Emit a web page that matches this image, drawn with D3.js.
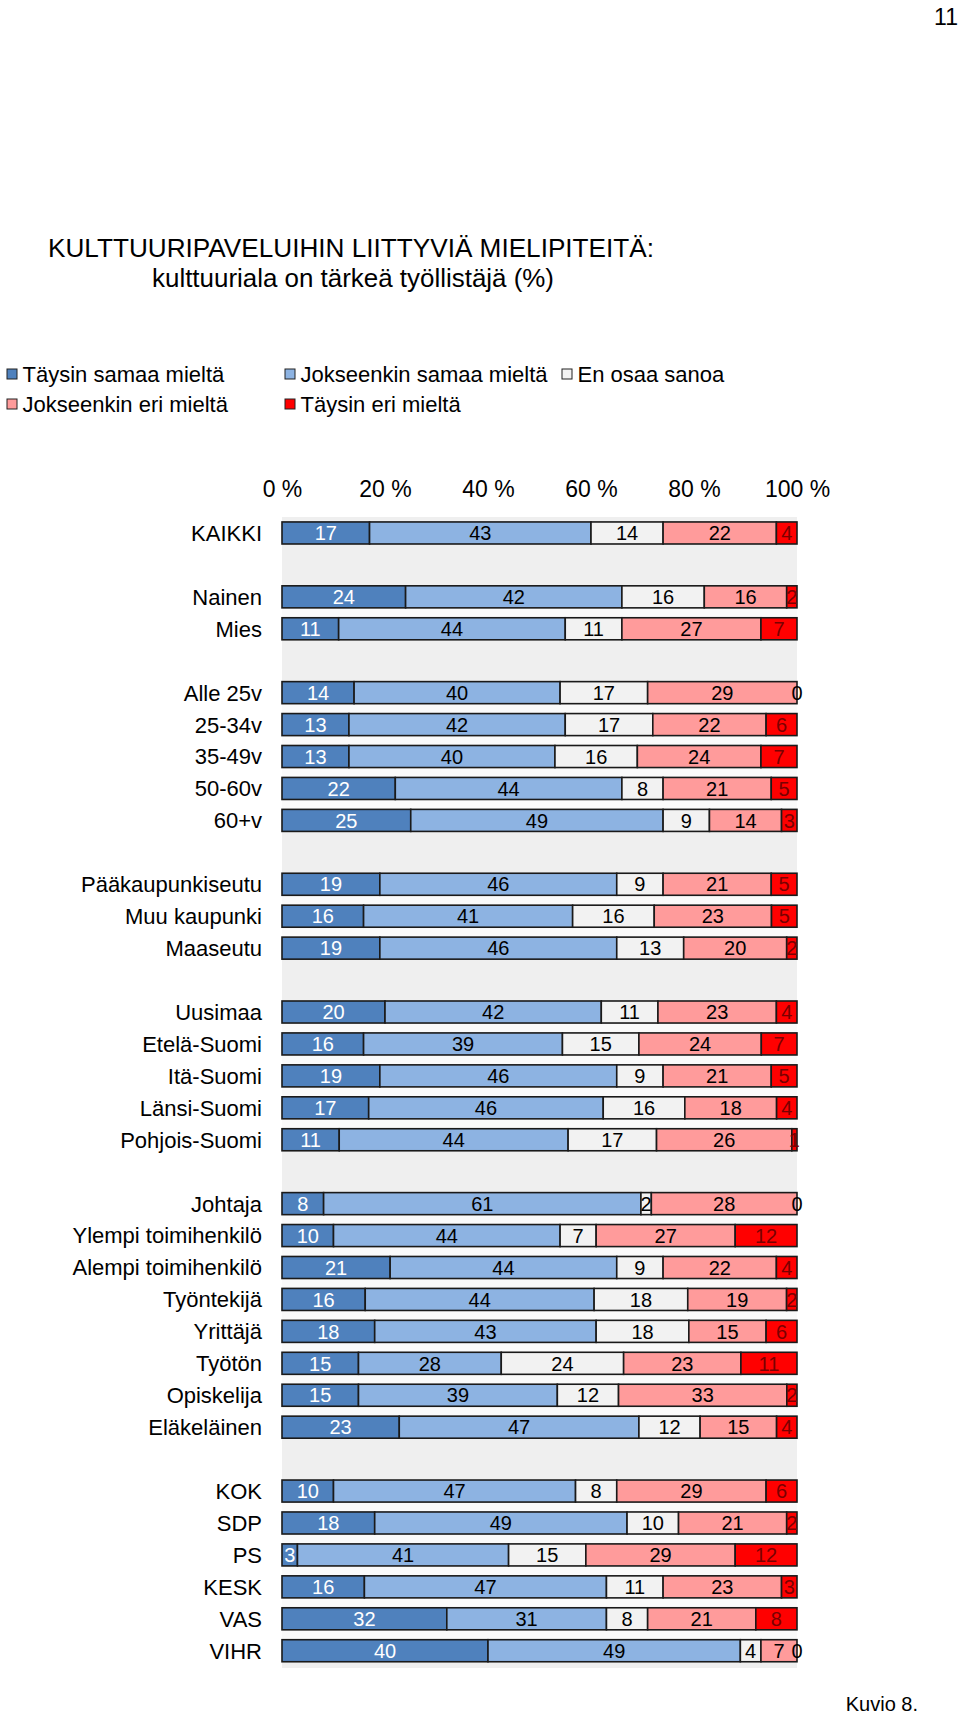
<!DOCTYPE html>
<html>
<head>
<meta charset="utf-8">
<script src="https://cdn.jsdelivr.net/npm/d3@7"></script>
<style>
  html, body { margin: 0; padding: 0; background: #fff; }
  svg { display: block; font-family: "Liberation Sans", Arial, Helvetica, sans-serif; }
</style>
</head>
<body>
<svg id="chart" width="960" height="1717"></svg>
<script>
// ---- data ----
const categories = ["KAIKKI","Nainen","Mies","Alle 25v","25-34v","35-49v","50-60v","60+v",
  "Pääkaupunkiseutu","Muu kaupunki","Maaseutu",
  "Uusimaa","Etelä-Suomi","Itä-Suomi","Länsi-Suomi","Pohjois-Suomi",
  "Johtaja","Ylempi toimihenkilö","Alempi toimihenkilö","Työntekijä","Yrittäjä","Työtön","Opiskelija","Eläkeläinen",
  "KOK","SDP","PS","KESK","VAS","VIHR"];
const groupStarts = ["Nainen","Alle 25v","Pääkaupunkiseutu","Uusimaa","Johtaja","KOK"];
const seriesNames = ["Täysin samaa mieltä","Jokseenkin samaa mieltä","En osaa sanoa","Jokseenkin eri mieltä","Täysin eri mieltä"];
const taysinSamaa     = [17,24,11,14,13,13,22,25,19,16,19,20,16,19,17,11, 8,10,21,16,18,15,15,23,10,18, 3,16,32,40];
const jokseenkinSamaa = [43,42,44,40,42,40,44,49,46,41,46,42,39,46,46,44,61,44,44,44,43,28,39,47,47,49,41,47,31,49];
const enOsaa          = [14,16,11,17,17,16, 8, 9, 9,16,13,11,15, 9,16,17, 2, 7, 9,18,18,24,12,12, 8,10,15,11, 8, 4];
const jokseenkinEri   = [22,16,27,29,22,24,21,14,21,23,20,23,24,21,18,26,28,27,22,19,15,23,33,15,29,21,29,23,21, 7];
const taysinEri       = [ 4, 2, 7, 0, 6, 7, 5, 3, 5, 5, 2, 4, 7, 5, 4, 1, 0,12, 4, 2, 6,11, 2, 4, 6, 2,12, 3, 8, 0];
const tickLabels = ["0 %","20 %","40 %","60 %","80 %","100 %"];
const tickValues = [0,20,40,60,80,100];

// ---- styles ----
const colors = ["#4f81bd","#8db3e2","#f2f2f2","#ff9b9b","#ff0000"];
const labelColors = ["#ffffff","#000000","#000000","#000000","#7a0000"];
const seriesValues = [taysinSamaa, jokseenkinSamaa, enOsaa, jokseenkinEri, taysinEri];

const svg = d3.select("#chart");

// page number
svg.append("text").attr("x", 958).attr("y", 25).attr("text-anchor", "end")
  .attr("font-size", 23).text("11");

// title
svg.append("text").attr("x", 48).attr("y", 257).attr("font-size", 26)
  .attr("textLength", 606).attr("lengthAdjust", "spacingAndGlyphs")
  .text("KULTTUURIPAVELUIHIN LIITTYVIÄ MIELIPITEITÄ:");
svg.append("text").attr("x", 152).attr("y", 287).attr("font-size", 26)
  .attr("textLength", 402).attr("lengthAdjust", "spacingAndGlyphs")
  .text("kulttuuriala on tärkeä työllistäjä (%)");

// legend
const legendPos = [[7,374],[285,374],[562,374],[7,404],[285,404]];
const lg = svg.append("g");
seriesNames.forEach((s, i) => {
  const [lx, ly] = legendPos[i];
  lg.append("rect").attr("x", lx).attr("y", ly - 5).attr("width", 10).attr("height", 10)
    .attr("fill", colors[i]).attr("stroke", "#222").attr("stroke-width", 1);
  lg.append("text").attr("x", lx + 15.5).attr("y", ly + 7.5).attr("font-size", 22).text(s);
});

// scales
const left = 282, right = 797;
const slots = [];
categories.forEach((c, i) => {
  if (groupStarts.includes(c)) slots.push("__gap" + i);
  slots.push(c);
});
const y = d3.scaleBand().domain(slots).range([517, 1666.7]).paddingInner(0.31).paddingOuter(0.155);
const x = d3.scaleLinear().domain([0, 1]).range([left, right]);
const xPct = d3.scaleLinear().domain([0, 100]).range([left, right]);
const bw = y.bandwidth();

// plot background (gray) with lighter gaps inside groups
svg.append("rect").attr("x", left).attr("y", 517).attr("width", right - left).attr("height", 1668 - 517)
  .attr("fill", "#efefef");
for (let i = 1; i < categories.length; i++) {
  if (!groupStarts.includes(categories[i])) {
    const y0 = y(categories[i - 1]) + bw, y1 = y(categories[i]);
    svg.append("rect").attr("x", left).attr("y", y0).attr("width", right - left).attr("height", y1 - y0)
      .attr("fill", "#fafafa");
  }
}

// axis
const axis = d3.axisTop(xPct).tickValues(tickValues).tickSize(0).tickPadding(0)
  .tickFormat((d, i) => tickLabels[i]);
const ag = svg.append("g").attr("transform", "translate(0,497)").call(axis);
ag.select(".domain").remove();
ag.selectAll("text").attr("font-size", 23).attr("font-family", "Liberation Sans, Arial, sans-serif").attr("fill", "#000");

// category labels
svg.append("g").selectAll("text").data(categories).join("text")
  .attr("x", 262).attr("y", d => y(d) + bw / 2).attr("dy", "0.36em")
  .attr("text-anchor", "end").attr("font-size", 22).text(d => d);

// bars
const rows = categories.map((c, i) => {
  const vals = seriesValues.map(s => s[i]);
  const total = d3.sum(vals);
  let cum = 0;
  return vals.map((v, k) => {
    const seg = { cat: c, k, v, x0: cum / total, x1: (cum + v) / total };
    cum += v;
    return seg;
  });
});
const segs = rows.flat();
const bars = svg.append("g");
bars.selectAll("rect").data(segs.filter(d => d.v > 0)).join("rect")
  .attr("x", d => x(d.x0)).attr("y", d => y(d.cat))
  .attr("width", d => x(d.x1) - x(d.x0)).attr("height", bw)
  .attr("fill", d => colors[d.k]).attr("stroke", "#1a1a1a").attr("stroke-width", 1.6);

bars.selectAll("text").data(segs).join("text")
  .attr("x", d => (x(d.x0) + x(d.x1)) / 2).attr("y", d => y(d.cat) + bw / 2).attr("dy", "0.36em")
  .attr("text-anchor", "middle").attr("font-size", 20)
  .attr("fill", d => d.v === 0 ? "#000" : labelColors[d.k])
  .text(d => d.v);

// footer
svg.append("text").attr("x", 918).attr("y", 1711).attr("text-anchor", "end")
  .attr("font-size", 20).text("Kuvio 8.");
</script>
</body>
</html>
